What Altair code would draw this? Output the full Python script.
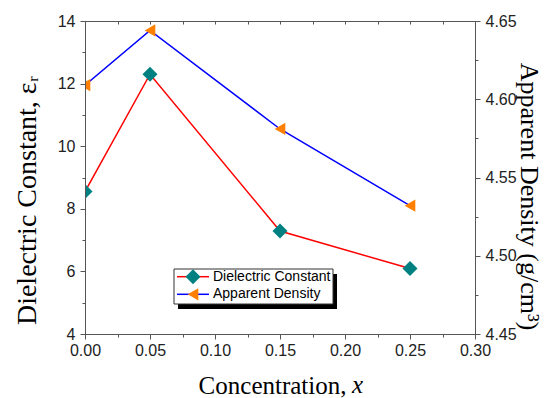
import altair as alt
import pandas as pd

# ---- data ----
conc = [0.00, 0.05, 0.15, 0.25]
dielectric = [8.55, 12.30, 7.29, 6.09]
density = [4.609, 4.644, 4.581, 4.532]

x_ticks = [0.0, 0.025, 0.05, 0.075, 0.1, 0.125, 0.15, 0.175, 0.2, 0.225, 0.25, 0.275, 0.3]
left_ticks = [4, 5, 6, 7, 8, 9, 10, 11, 12, 13, 14]
right_ticks = [4.45, 4.475, 4.5, 4.525, 4.55, 4.575, 4.6, 4.625, 4.65]
legend_labels = ["Dielectric Constant", "Apparent Density"]

df = pd.DataFrame({"x": conc, "eps": dielectric, "rho": density})

W, H = 390, 313
AX = "#555555"
RED, BLUE, TEAL, ORANGE = "#FF0000", "#0000FF", "#008080", "#FF8000"
SANS, SERIF = "Liberation Sans", "Liberation Serif"

maj20 = "abs(datum.value*20 - round(datum.value*20)) < 0.001"
maj2 = "datum.value % 2 == 0"

common = dict(domainColor=AX, tickColor=AX, labelFont=SANS, labelFontSize=16,
              labelColor="#222222", titleFont=SERIF, titleFontWeight="normal",
              titleColor="black", labelOverlap=False, labelFlush=False,
              labelBound=False, grid=False, zindex=1)

x_axis = alt.Axis(values=x_ticks, orient="bottom",
                  labelExpr=f"{maj20} ? format(datum.value, '.2f') : ''",
                  tickSize={"condition": {"test": maj20, "value": 5}, "value": 3},
                  labelPadding=3, title="Concentration,", titleFontSize=25,
                  titleAlign="right", titleBaseline="alphabetic",
                  titleX=261, titleY=59, **common)

x_top = alt.Axis(values=x_ticks, orient="top", offset=-3, labels=False,
                 domain=False, tickSize=3, title=None, tickColor=AX, zindex=1)

y_left = alt.Axis(values=left_ticks, orient="left",
                  labelExpr=f"{maj2} ? datum.label : ''",
                  tickSize={"condition": {"test": maj2, "value": 5}, "value": 3},
                  labelPadding=5, title="Dielectric Constant, \u03b5\u1d63",
                  titleFontSize=28, titleAngle=-90, titleAlign="center",
                  titleBaseline="alphabetic", titleX=-50, titleY=179, **common)

y_right = alt.Axis(values=right_ticks, orient="right",
                   labelExpr=f"{maj20} ? format(datum.value, '.2f') : ''",
                   tickSize={"condition": {"test": maj20, "value": 5}, "value": 3},
                   labelPadding=5, title="Apparent Density (g/cm\u00b3)",
                   titleFontSize=26, titleAngle=90, titleAlign="center",
                   titleBaseline="alphabetic", titleX=45, titleY=175, **common)

xs = alt.Scale(domain=[0, 0.3], nice=False, zero=False)
ys_l = alt.Scale(domain=[4, 14], nice=False, zero=False)
ys_r = alt.Scale(domain=[4.45, 4.65], nice=False, zero=False)

base = alt.Chart(df)

diel = alt.layer(
    base.mark_line(color=RED, strokeWidth=1.5, clip=True).encode(
        x=alt.X("x:Q", scale=xs, axis=x_axis),
        y=alt.Y("eps:Q", scale=ys_l, axis=y_left)),
    base.mark_point(shape="diamond", filled=True, size=225, color=TEAL,
                    opacity=1, clip=True).encode(
        x=alt.X("x:Q", scale=xs, axis=x_axis),
        y=alt.Y("eps:Q", scale=ys_l, axis=y_left)),
)

dens = alt.layer(
    base.mark_line(color=BLUE, strokeWidth=1.5, clip=True).encode(
        x=alt.X("x:Q", scale=xs, axis=x_top),
        y=alt.Y("rho:Q", scale=ys_r, axis=y_right)),
    base.mark_point(shape="triangle-left", filled=True, size=150, color=ORANGE,
                    opacity=1, clip=True).encode(
        x=alt.X("x:Q", scale=xs, axis=x_top),
        y=alt.Y("rho:Q", scale=ys_r, axis=y_right)),
)

# x italic part of the x-axis title
one = alt.InlineData(values=[{"k": 1}])
x_italic = alt.Chart(one).mark_text(text="x", font=SERIF, fontSize=25,
                                    fontStyle="italic", align="left",
                                    baseline="alphabetic", color="black").encode(
    x=alt.value(267), y=alt.value(H + 59))

# ---- legend (decoration) ----
r1, r2 = 255.7, 273.3
leg = alt.layer(
    alt.Chart(one).mark_rect(color="black").encode(
        x=alt.value(93), x2=alt.value(252), y=alt.value(253), y2=alt.value(288)),
    alt.Chart(one).mark_rect(fill="white", stroke="#333333", strokeWidth=1).encode(
        x=alt.value(89), x2=alt.value(248), y=alt.value(248), y2=alt.value(283)),
    alt.Chart(one).mark_rule(color=RED, strokeWidth=1.5).encode(
        x=alt.value(92), x2=alt.value(124), y=alt.value(r1)),
    alt.Chart(one).mark_rule(color=BLUE, strokeWidth=1.5).encode(
        x=alt.value(92), x2=alt.value(124), y=alt.value(r2)),
    alt.Chart(one).mark_point(shape="diamond", filled=True, size=225, color=TEAL,
                              opacity=1).encode(x=alt.value(108), y=alt.value(r1)),
    alt.Chart(one).mark_point(shape="triangle-left", filled=True, size=150,
                              color=ORANGE, opacity=1).encode(
        x=alt.value(108), y=alt.value(r2)),
    alt.Chart(one).mark_text(text=legend_labels[0], font=SANS, fontSize=14,
                             align="left", baseline="middle", color="black").encode(
        x=alt.value(128), y=alt.value(r1)),
    alt.Chart(one).mark_text(text=legend_labels[1], font=SANS, fontSize=14,
                             align="left", baseline="middle", color="black").encode(
        x=alt.value(128), y=alt.value(r2)),
)

chart = alt.layer(diel, dens, x_italic, leg).resolve_scale(
    y="independent").resolve_axis(x="independent").properties(
    width=W, height=H,
    autosize=alt.AutoSizeParams(type="none"),
    padding={"left": 85, "top": 21, "right": 76, "bottom": 64},
    background="white",
).configure_view(stroke=AX, strokeWidth=1)

chart.save("out.html", embed_options={"renderer": "svg", "actions": False})
